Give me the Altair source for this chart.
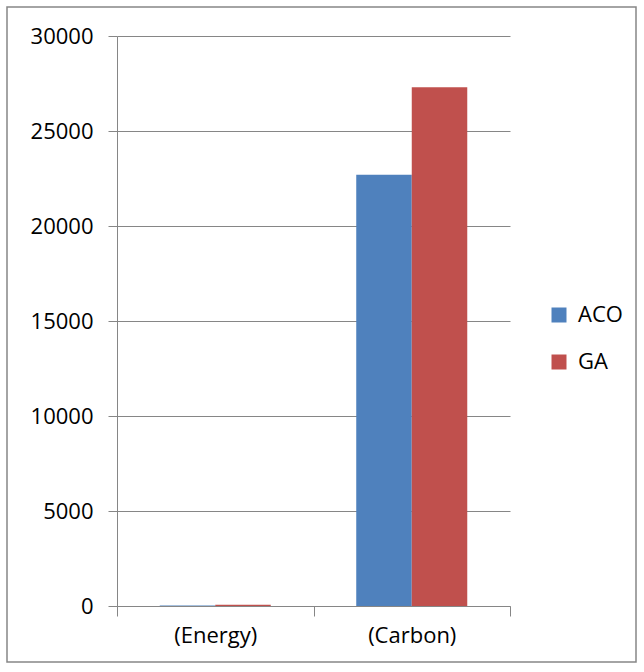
import altair as alt
import pandas as pd

# Objective values per metric and algorithm
metrics = ["(Energy)", "(Carbon)"]
algorithms = ["ACO", "GA"]
aco_values = [20, 22700]
ga_values = [60, 27300]

rows = []
for i, m in enumerate(metrics):
    rows.append({"metric": m, "algorithm": "ACO", "value": aco_values[i]})
    rows.append({"metric": m, "algorithm": "GA", "value": ga_values[i]})
df = pd.DataFrame(rows)

FONT = "Open Sans"
GRID = "#868686"
FS = 22

bars = alt.Chart(df).mark_bar(size=55.5).encode(
    x=alt.X(
        "metric:N",
        sort=metrics,
        title=None,
        scale=alt.Scale(paddingInner=0, paddingOuter=0),
        axis=alt.Axis(
            labelAngle=0,
            tickBand="extent",
            tickSize=10,
            tickColor=GRID,
            domainColor=GRID,
            labelFontSize=FS,
            labelFont=FONT,
            labelColor="black",
            labelPadding=9,
            grid=False,
        ),
    ),
    xOffset=alt.XOffset(
        "algorithm:N",
        sort=algorithms,
        scale=alt.Scale(paddingInner=0, paddingOuter=0.77),
    ),
    y=alt.Y(
        "value:Q",
        title=None,
        scale=alt.Scale(domain=[0, 30000], nice=False),
        axis=alt.Axis(
            values=[0, 5000, 10000, 15000, 20000, 25000, 30000],
            format="d",
            tickSize=9,
            tickColor=GRID,
            domainColor=GRID,
            gridColor=GRID,
            gridWidth=1,
            labelFontSize=FS,
            labelFont=FONT,
            labelColor="black",
            labelPadding=15,
        ),
    ),
    color=alt.Color(
        "algorithm:N",
        sort=algorithms,
        scale=alt.Scale(domain=algorithms, range=["#4F81BD", "#C0504D"]),
        legend=alt.Legend(
            title=None,
            orient="none",
            legendX=431,
            legendY=268,
            symbolType="square",
            symbolSize=225,
            symbolStrokeWidth=0,
            labelFontSize=FS,
            labelFont=FONT,
            labelColor="black",
            rowPadding=25,
            labelOffset=8,
        ),
    ),
)

# Frame around the whole chart area
frame = alt.Chart(pd.DataFrame({"k": [0]})).mark_rect(
    fill=None, stroke=GRID, strokeWidth=1.5, clip=False
).encode(
    x=alt.value(-110), x2=alt.value(519), y=alt.value(-29), y2=alt.value(626)
)

chart = alt.layer(frame, bars).properties(
    width=393,
    height=570,
    padding={"left": 117, "top": 36, "right": 134, "bottom": 66},
    autosize=alt.AutoSizeParams(type="none"),
    background="white",
).configure_view(stroke=None)

chart.save("out.html", embed_options={"renderer": "svg", "actions": False})
